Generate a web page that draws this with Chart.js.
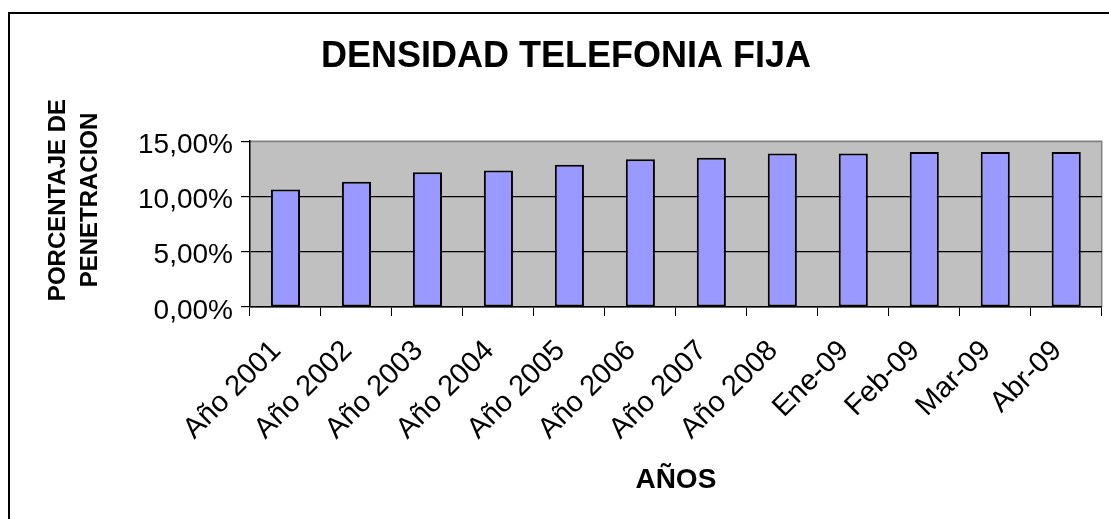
<!DOCTYPE html>
<html>
<head>
<meta charset="utf-8">
<script src="https://cdn.jsdelivr.net/npm/chart.js@4.4.0/dist/chart.umd.min.js"></script>
<style>
    html, body { margin: 0; padding: 0; background: #fff; overflow: hidden; }
    #frame { position: absolute; left: 8px; top: 12px; width: 1200px; height: 600px; border: 2px solid #000; }
    #wrap { position: absolute; left: 0; top: 0; width: 1109px; height: 519px; }
</style>
</head>
<body>
<div id="frame"></div>
<div id="wrap"><canvas id="chartCanvas" width="1109" height="519"></canvas></div>
<script>
const categories = [
    "Año 2001", "Año 2002", "Año 2003", "Año 2004", "Año 2005", "Año 2006",
    "Año 2007", "Año 2008", "Ene-09", "Feb-09", "Mar-09", "Abr-09"
];
const penetracion = [10.64, 11.34, 12.20, 12.35, 12.87, 13.36, 13.51, 13.88, 13.88, 14.03, 14.03, 14.03];
const yTicks = [0, 5, 10, 15];
const yTitle = ["PORCENTAJE DE", "PENETRACION"];

const FONT = "'Liberation Sans', Arial, sans-serif";

function formatPercent(v) {
    return v.toFixed(2).replace(".", ",") + "%";
}

// gray plot area like the old Excel chart
const plotBackground = {
    id: "plotBackground",
    beforeDraw(chart) {
        const { ctx, chartArea: a } = chart;
        ctx.save();
        ctx.fillStyle = "#c0c0c0";
        ctx.fillRect(a.left, a.top, a.right - a.left, a.bottom - a.top);
        ctx.strokeStyle = "#808080";
        ctx.lineWidth = 1.5;
        ctx.beginPath();
        ctx.moveTo(a.left, a.top);
        ctx.lineTo(a.right, a.top);
        ctx.lineTo(a.right, a.bottom);
        ctx.stroke();
        ctx.restore();
    }
};

// two-line rotated y title
const yTitlePlugin = {
    id: "yTitlePlugin",
    afterDraw(chart) {
        const ctx = chart.ctx;
        ctx.save();
        ctx.font = "bold 24px " + FONT;
        ctx.fillStyle = "#000";
        ctx.textAlign = "center";
        ctx.textBaseline = "middle";
        yTitle.forEach((line, i) => {
            ctx.save();
            ctx.translate(58 + i * 32, 200);
            ctx.rotate(-Math.PI / 2);
            ctx.fillText(line, 0, 0);
            ctx.restore();
        });
        ctx.restore();
    }
};

const ctx = document.getElementById("chartCanvas").getContext("2d");

const chart = new Chart(ctx, {
    type: "bar",
    data: {
        labels: categories,
        datasets: [
            {
                label: "Densidad",
                data: penetracion,
                backgroundColor: "#9999ff",
                borderColor: "#000",
                borderWidth: 2,
                borderSkipped: false,
                categoryPercentage: 1,
                barPercentage: 0.41
            }
        ]
    },
    options: {
        responsive: false,
        animation: false,
        devicePixelRatio: 1,
        layout: { padding: { left: 27, right: 4, top: 0, bottom: 0 } },
        plugins: {
            legend: { display: false },
            tooltip: { enabled: false },
            title: {
                display: true,
                text: "DENSIDAD TELEFONIA FIJA",
                color: "#000",
                font: { family: FONT, size: 36, weight: "bold" },
                padding: { top: 35, bottom: 63 }
            }
        },
        scales: {
            x: {
                afterFit(s) { s.height = 212; },
                grid: {
                    display: true,
                    drawOnChartArea: false,
                    offset: true,
                    tickLength: 9,
                    tickColor: "#000"
                },
                border: { color: "#000", width: 1.5 },
                ticks: {
                    autoSkip: false,
                    minRotation: 45,
                    maxRotation: 45,
                    padding: 18,
                    labelOffset: -9,
                    color: "#000",
                    font: { family: FONT, size: 29 }
                },
                title: {
                    display: true,
                    text: "AÑOS",
                    color: "#000",
                    font: { family: FONT, size: 28, weight: "bold" },
                    padding: { top: 0, bottom: 22 }
                }
            },
            y: {
                min: 0,
                max: 15,
                afterFit(s) { s.width = 223; },
                afterBuildTicks(s) { s.ticks = yTicks.map(v => ({ value: v })); },
                grid: {
                    color: c => (c.tick && c.tick.value === 15 ? "#808080" : "#000"),
                    lineWidth: 1.2,
                    tickLength: 9,
                    tickColor: "#000"
                },
                border: { color: "#000", width: 1.5 },
                ticks: {
                    padding: 8,
                    labelOffset: 4,
                    color: "#000",
                    font: { family: FONT, size: 28 },
                    callback: v => formatPercent(v)
                }
            }
        }
    },
    plugins: [plotBackground, yTitlePlugin]
});
</script>
</body>
</html>
